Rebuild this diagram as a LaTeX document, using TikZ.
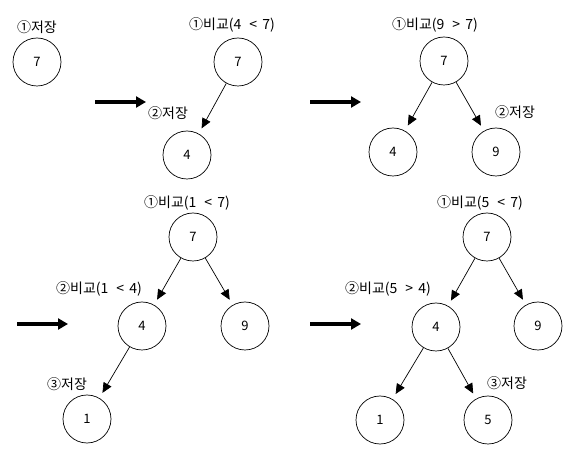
\documentclass[tikz,border=0pt]{standalone}
\usepackage{fontspec}
\setmainfont{Noto Sans CJK KR}
\usetikzlibrary{arrows.meta}
\begin{document}
\begin{tikzpicture}[x=1pt,y=-1pt,
  nd/.style={circle,draw,line width=0.7pt,minimum size=48pt,inner sep=0pt,font=\fontsize{13}{15}\selectfont},
  lbl/.style={inner sep=0pt,font=\fontsize{14}{16}\selectfont},
  con/.style={line width=0.7pt,-{Triangle[length=10pt,width=9pt]},shorten >=6pt},
  big/.style={line width=4pt,-{Triangle[length=10pt,width=11pt]}}]
\useasboundingbox (0,0) rectangle (574,465);
% stage 1
\node[nd] (a7) at (37,62) {7};
\node[lbl] (la1) at (37,27) {①저장};
% arrow 1
\coordinate (s1) at (95,102); \coordinate (e1) at (146,102);
\draw[big] (s1) -- (e1);
% stage 2
\node[nd] (b7) at (238,62) {7};
\node[nd] (b4) at (187,155) {4};
\node[lbl] (lb1) at (232,25) {①비교(4\hspace{8pt}<\hspace{5pt}7)};
\node[lbl] (lb2) at (168,113) {②저장};
\draw[con] (b7) -- (b4);
% arrow 2
\coordinate (s2) at (310,102); \coordinate (e2) at (361,102);
\draw[big] (s2) -- (e2);
% stage 3
\node[nd] (c7) at (444,61) {7};
\node[nd] (c4) at (393,152) {4};
\node[nd] (c9) at (496,152) {9};
\node[lbl] (lc1) at (435,25) {①비교(9\hspace{8pt}>\hspace{5pt}7)};
\node[lbl] (lc2) at (515,112) {②저장};
\draw[con] (c7) -- (c4);
\draw[con] (c7) -- (c9);
% arrow 3
\coordinate (s3) at (17,324); \coordinate (e3) at (68,324);
\draw[big] (s3) -- (e3);
% stage 4
\node[nd] (d7) at (193,237) {7};
\node[nd] (d4) at (142,326) {4};
\node[nd] (d9) at (245,326) {9};
\node[nd] (d1) at (87,419) {1};
\node[lbl] (ld1) at (187,203) {①비교(1\hspace{8pt}<\hspace{5pt}7)};
\node[lbl] (ld2) at (99,289) {②비교(1\hspace{8pt}<\hspace{5pt}4)};
\node[lbl] (ld3) at (67,384) {③저장};
\draw[con] (d7) -- (d4);
\draw[con] (d7) -- (d9);
\draw[con] (d4) -- (d1);
% arrow 4
\coordinate (s4) at (310,324); \coordinate (e4) at (361,324);
\draw[big] (s4) -- (e4);
% stage 5
\node[nd] (f7) at (487,237) {7};
\node[nd] (f4) at (436,327) {4};
\node[nd] (f9) at (538,326) {9};
\node[nd] (f1) at (380,420) {1};
\node[nd] (f5) at (488,420) {5};
\node[lbl] (lf1) at (480,203) {①비교(5\hspace{8pt}<\hspace{5pt}7)};
\node[lbl] (lf2) at (388,289) {②비교(5\hspace{8pt}>\hspace{5pt}4)};
\node[lbl] (lf3) at (507,383) {③저장};
\draw[con] (f7) -- (f4);
\draw[con] (f7) -- (f9);
\draw[con] (f4) -- (f1);
\draw[con] (f4) -- (f5);
\end{tikzpicture}
\end{document}
